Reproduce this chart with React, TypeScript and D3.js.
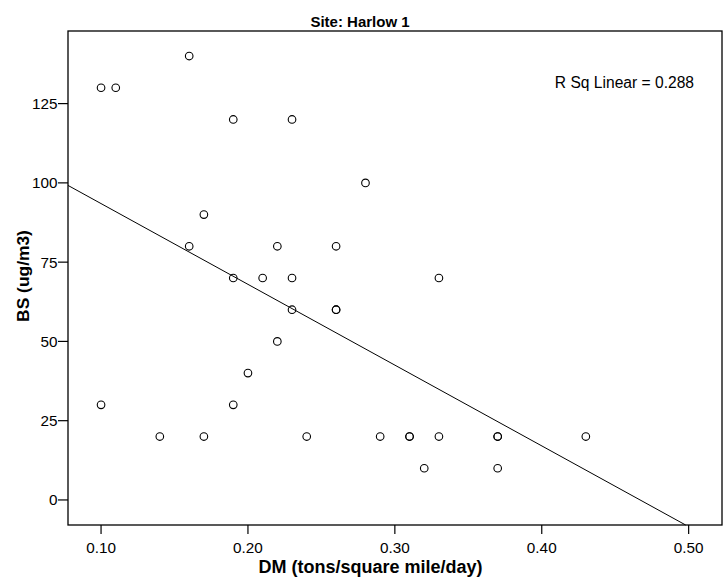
import React from 'react';
import * as d3 from 'd3';

// DM (tons/square mile/day) vs BS (ug/m3), Harlow 1
const dmValues = [
  0.10, 0.11, 0.16, 0.19, 0.23, 0.28, 0.17, 0.16, 0.22, 0.26, 0.19,
  0.21, 0.23, 0.33, 0.23, 0.26, 0.26, 0.22, 0.20, 0.10, 0.19, 0.14,
  0.17, 0.24, 0.29, 0.31, 0.31, 0.33, 0.37, 0.37, 0.43, 0.32, 0.37
];
const bsValues = [
  130, 130, 140, 120, 120, 100, 90, 80, 80, 80, 70,
  70, 70, 70, 60, 60, 60, 50, 40, 30, 30, 20,
  20, 20, 20, 20, 20, 20, 20, 20, 20, 10, 10
];
const xTicks = [0.10, 0.20, 0.30, 0.40, 0.50];
const yTicks = [0, 25, 50, 75, 100, 125];

const title = 'Site: Harlow 1';
const xLabel = 'DM (tons/square mile/day)';
const yLabel = 'BS (ug/m3)';
const rsqLabel = 'R Sq Linear = 0.288';

const width = 723, height = 578;
const margin = { top: 31, right: 1, bottom: 53, left: 68 };
const font = 'Arial, "Liberation Sans", sans-serif';

export default function App() {
  const innerW = width - margin.left - margin.right;
  const innerH = height - margin.top - margin.bottom;

  const x = d3.scaleLinear().domain([0.0775, 0.5227]).range([0, innerW]);
  const y = d3.scaleLinear().domain([-7.9, 147.9]).range([innerH, 0]);

  // least squares fit
  const mx = d3.mean(dmValues) as number;
  const my = d3.mean(bsValues) as number;
  let sxy = 0, sxx = 0;
  dmValues.forEach((d, i) => {
    sxy += (d - mx) * (bsValues[i] - my);
    sxx += (d - mx) * (d - mx);
  });
  const slope = sxy / sxx;
  const icpt = my - slope * mx;
  const [x0, x1] = x.domain();
  const yMin = y.domain()[0];
  // clip the line to the plot box
  const xEnd = Math.min(x1, (yMin - icpt) / slope);
  const fitLine = d3.line<number>().x(d => x(d)).y(d => y(icpt + slope * d))([x0, xEnd]);

  return (
    <svg width={width} height={height} style={{ position: 'absolute', left: 0, top: 0, background: '#fff' }}
      fontFamily={font}>
      <text x={360} y={26.5} textAnchor="middle" fontSize={15} fontWeight="bold">{title}</text>
      <g transform={`translate(${margin.left},${margin.top})`}>
        <rect x={0} y={0} width={innerW} height={innerH} fill="none" stroke="#000" strokeWidth={1.3} />
        <path d={fitLine || ''} fill="none" stroke="#000" strokeWidth={1} />
        {dmValues.map((d, i) => (
          <circle key={i} cx={x(d)} cy={y(bsValues[i])} r={3.8} fill="none" stroke="#000" strokeWidth={1.1} />
        ))}
        {xTicks.map(t => (
          <g key={t} transform={`translate(${x(t)},${innerH})`}>
            <line y1={0} y2={9} stroke="#000" strokeWidth={1.2} />
            <text y={27.5} textAnchor="middle" fontSize={15.3}>{d3.format('.2f')(t)}</text>
          </g>
        ))}
        {yTicks.map(t => (
          <g key={t} transform={`translate(0,${y(t)})`}>
            <line x1={0} x2={-10} stroke="#000" strokeWidth={1.2} />
            <text x={-10.5} dy="0.36em" textAnchor="end" fontSize={15.3}>{t}</text>
          </g>
        ))}
        <text x={626} y={57} textAnchor="end" fontSize={15.6}>{rsqLabel}</text>
      </g>
      <text x={370.5} y={573} textAnchor="middle" fontSize={18} fontWeight="bold">{xLabel}</text>
      <text transform={`translate(29,276) rotate(-90)`} textAnchor="middle"
        fontSize={17.4} fontWeight="bold">{yLabel}</text>
    </svg>
  );
}
